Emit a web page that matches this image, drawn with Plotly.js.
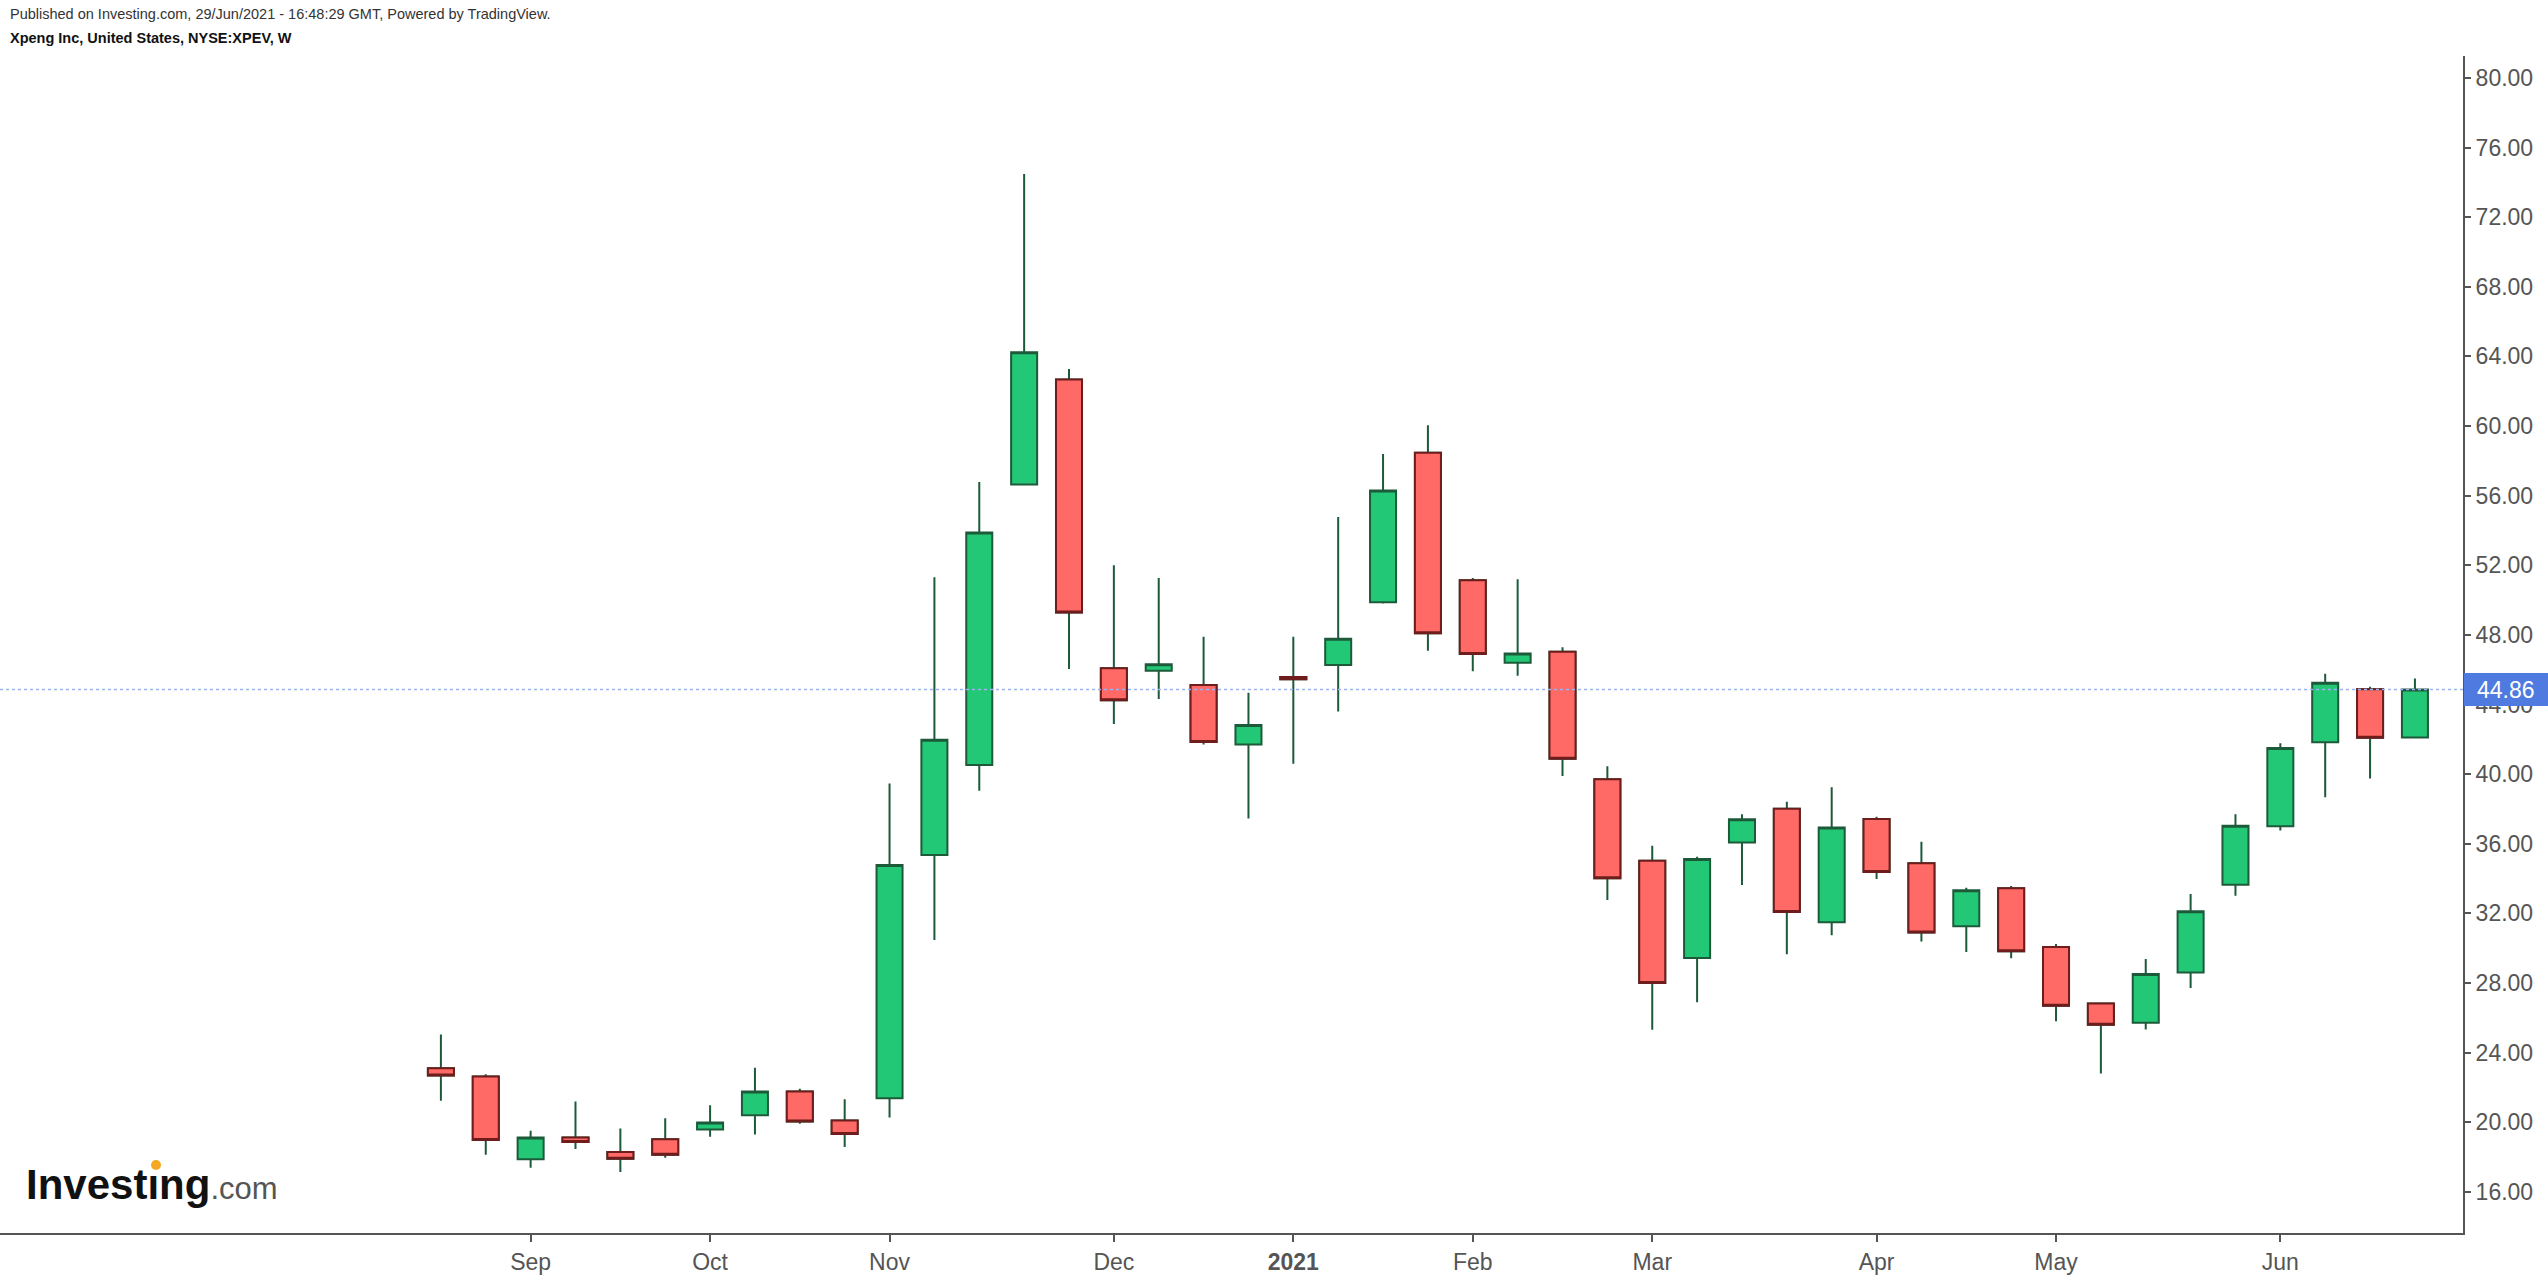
<!DOCTYPE html>
<html>
<head>
<meta charset="utf-8">
<script src="https://cdn.plot.ly/plotly-3.0.1.min.js"></script>
<style>html,body{margin:0;padding:0;background:#fff;}#chart{width:2548px;height:1276px;}</style>
</head>
<body>
<div id="chart"></div>
<script>
// Weekly bars, XPEV (week starting Monday)
const weekDates = [
  '2020-08-24','2020-08-31','2020-09-07','2020-09-14','2020-09-21','2020-09-28',
  '2020-10-05','2020-10-12','2020-10-19','2020-10-26','2020-11-02','2020-11-09',
  '2020-11-16','2020-11-23','2020-11-30','2020-12-07','2020-12-14','2020-12-21',
  '2020-12-28','2021-01-04','2021-01-11','2021-01-18','2021-01-25','2021-02-01',
  '2021-02-08','2021-02-15','2021-02-22','2021-03-01','2021-03-08','2021-03-15',
  '2021-03-22','2021-03-29','2021-04-05','2021-04-12','2021-04-19','2021-04-26',
  '2021-05-03','2021-05-10','2021-05-17','2021-05-24','2021-05-31','2021-06-07',
  '2021-06-14','2021-06-21','2021-06-28'
];
const openP = [
  23.11,22.63,17.87,19.13,18.29,19.02,
  19.59,20.41,21.77,20.10,21.38,35.36,
  40.52,56.64,62.67,46.08,45.94,45.12,
  41.70,45.58,46.27,49.88,58.46,51.14,
  46.40,47.03,39.71,35.02,29.44,36.07,
  38.02,31.49,37.43,34.88,31.26,33.44,
  30.07,26.83,25.72,28.61,33.65,37.01,
  41.84,44.88,42.11
];
const highP = [
  25.05,22.76,19.52,21.20,19.65,20.23,
  20.98,23.13,21.93,21.33,39.47,51.31,
  56.79,74.48,63.28,52.00,51.27,47.89,
  44.68,47.89,54.77,58.39,60.05,51.27,
  51.20,47.29,40.46,35.89,35.26,37.70,
  38.41,39.25,37.56,36.12,33.48,33.58,
  30.24,26.85,29.38,33.11,37.70,41.78,
  45.77,45.02,45.50
];
const lowP = [
  21.24,18.14,17.39,18.47,17.15,17.97,
  19.17,19.30,19.92,18.58,20.28,30.48,
  39.05,56.60,46.04,42.88,44.32,41.70,
  37.46,40.60,43.60,49.80,47.09,45.91,
  45.65,39.90,32.77,25.31,26.89,33.64,
  29.65,30.74,33.98,30.38,29.78,29.42,
  25.81,22.80,25.33,27.71,33.02,36.76,
  38.67,39.75,42.10
];
const closeP = [
  22.69,18.98,19.13,18.87,17.90,18.14,
  19.99,21.77,20.05,19.33,34.78,41.98,
  53.89,64.24,49.29,44.24,46.31,41.85,
  42.82,45.45,47.78,56.30,48.09,46.91,
  46.94,40.88,34.02,28.00,35.13,37.41,
  32.08,36.93,34.38,30.90,33.33,29.82,
  26.70,25.61,28.52,32.12,37.04,41.51,
  45.25,42.09,44.86
];
const tickDates = ['2020-09-07','2020-10-05','2020-11-02','2020-12-07','2021-01-04',
                   '2021-02-01','2021-03-01','2021-04-05','2021-05-03','2021-06-07'];
const tickLabels = ['Sep','Oct','Nov','Dec','<b>2021</b>','Feb','Mar','Apr','May','Jun'];

const GREEN = '#22c875', RED = '#ff6a66', GREEN_LINE = '#1c5a3a', RED_LINE = '#6e1c1c';
const FONT = 'Liberation Sans, Arial, Helvetica, sans-serif';

// plot area in page pixels
const PL = 0, PR = 2463, PT = 56, PB = 1233;
const px = x => (x - PL) / (PR - PL);
const py = y => (PB - y) / (PB - PT);

// full candles (wicks dark green for all)
const tAll = {
  type: 'candlestick', x: weekDates, open: openP, high: highP, low: lowP, close: closeP,
  increasing: {line: {color: GREEN_LINE, width: 2}, fillcolor: GREEN},
  decreasing: {line: {color: GREEN_LINE, width: 2}, fillcolor: RED},
  whiskerwidth: 0, hoverinfo: 'skip', showlegend: false
};
// falling bodies get dark red outline
const dx = [], dO = [], dC = [];
weekDates.forEach((d, i) => { if (closeP[i] < openP[i]) { dx.push(d); dO.push(openP[i]); dC.push(closeP[i]); } });
const tRed = {
  type: 'candlestick', x: dx, open: dO, high: dO, low: dC, close: dC,
  increasing: {line: {color: RED_LINE, width: 2}, fillcolor: RED},
  decreasing: {line: {color: RED_LINE, width: 2}, fillcolor: RED},
  whiskerwidth: 0, hoverinfo: 'skip', showlegend: false
};

const last = closeP[closeP.length - 1];

const layout = {
  width: 2548, height: 1276,
  margin: {l: PL, r: 2548 - PR, t: PT, b: 1276 - PB, pad: 0},
  paper_bgcolor: '#ffffff', plot_bgcolor: '#ffffff',
  showlegend: false,
  boxgap: 0.42, boxgroupgap: 0,
  font: {family: FONT, color: '#555555'},
  xaxis: {
    type: 'date', range: ['2020-06-16 05:00', '2021-07-05 12:00'],
    rangeslider: {visible: false},
    tickmode: 'array', tickvals: tickDates, ticktext: tickLabels,
    ticks: 'outside', ticklen: 7, tickwidth: 2, tickcolor: '#555555',
    showline: true, linecolor: '#555555', linewidth: 2,
    showgrid: false, zeroline: false,
    tickfont: {family: FONT, size: 23, color: '#555555'}
  },
  yaxis: {
    side: 'right', range: [13.64, 81.26],
    tick0: 0, dtick: 4, tickformat: '.2f',
    ticks: 'outside', ticklen: 6, tickwidth: 2, tickcolor: '#555555',
    showline: true, linecolor: '#555555', linewidth: 2,
    showgrid: false, zeroline: false,
    tickfont: {family: FONT, size: 23, color: '#555555'}
  },
  shapes: [
    {type: 'line', xref: 'paper', x0: 0, x1: 1, yref: 'y', y0: last, y1: last,
     line: {color: '#9db3ee', width: 1.5, dash: 'dot'}},
    {type: 'rect', xref: 'paper', x0: px(2464), x1: px(2548),
     yref: 'y', ysizemode: 'pixel', yanchor: last, y0: -16.5, y1: 16.5,
     fillcolor: '#4f7be0', line: {width: 0}, layer: 'above'},
    {type: 'circle', xref: 'paper', yref: 'paper',
     x0: px(151), x1: px(161), y0: py(1170), y1: py(1160),
     fillcolor: '#f5a623', line: {width: 0}}
  ],
  annotations: [
    {xref: 'paper', yref: 'paper', x: px(8), y: py(14), xanchor: 'left', yanchor: 'middle',
     text: 'Published on Investing.com, 29/Jun/2021 - 16:48:29 GMT, Powered by TradingView.',
     showarrow: false, font: {family: FONT, size: 14.5, color: '#333333'}},
    {xref: 'paper', yref: 'paper', x: px(8), y: py(38), xanchor: 'left', yanchor: 'middle',
     text: '<b>Xpeng Inc, United States, NYSE:XPEV, W</b>',
     showarrow: false, font: {family: FONT, size: 14.5, color: '#111111'}},
    {xref: 'paper', yref: 'paper', x: px(24), y: py(1210), xanchor: 'left', yanchor: 'bottom',
     text: '<b>Invest\u0131ng</b><span style="font-size:31px;color:#555555">.com</span>',
     showarrow: false, font: {family: FONT, size: 42, color: '#111111'}},
    {xref: 'paper', yref: 'y', x: px(2506), y: last, xanchor: 'center', yanchor: 'middle',
     text: last.toFixed(2), showarrow: false,
     font: {family: FONT, size: 23, color: '#ffffff'}}
  ]
};

Plotly.newPlot('chart', [tAll, tRed], layout, {staticPlot: true, displayModeBar: false});
</script>
</body>
</html>
